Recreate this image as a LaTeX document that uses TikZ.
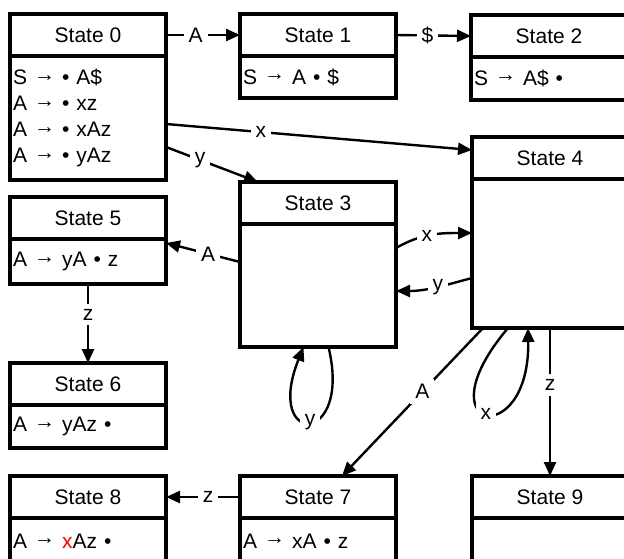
\documentclass[tikz,border=0pt]{standalone}
\usepackage{fontspec}
\setmainfont{Liberation Sans}
\usetikzlibrary{positioning, arrows.meta}

\newcommand{\arrto}{\raisebox{0.32ex}{→}}

\begin{document}
\begin{tikzpicture}[
    x=0.5pt, y=0.5pt,
    >={Triangle[length=7pt, width=6pt]},
    node distance=0pt,
    statehead/.style={rectangle, draw=black, line width=1.7pt, outer sep=0pt,
        minimum width=78pt, minimum height=21pt, anchor=north west,
        font=\fontsize{10.5}{13}\selectfont},
    statebody/.style={rectangle, draw=black, line width=1.7pt, outer sep=0pt,
        text width=75pt, inner xsep=1.5pt, inner ysep=0pt, align=left,
        font=\fontsize{10.5}{13}\selectfont},
    trans/.style={->, line width=1.2pt},
    sym/.style={fill=white, inner sep=2.5pt, font=\fontsize{10.5}{13}\selectfont},
]

\useasboundingbox (0,0) rectangle (624,-558);
\clip (0,0) rectangle (624,-558);

% ── Top row ──
\node[statehead] (s0) at (10,-14) {State 0};
\node[statebody, minimum height=62pt, below=of s0] (s0b)
    {S \arrto{} • A\$\\A \arrto{} • xz\\A \arrto{} • xAz\\A \arrto{} • yAz};

\node[statehead] (s1) at (240,-14) {State 1};
\node[statebody, minimum height=21pt, below=of s1] (s1b) {S \arrto{} A • \$};

\node[statehead] (s2) at (471,-15) {State 2};
\node[statebody, minimum height=21.5pt, below=of s2] (s2b) {S \arrto{} A\$ •};

% ── Middle ──
\node[statehead] (s3) at (240,-182) {State 3};
\node[statebody, minimum height=61.5pt, below=of s3] (s3b) {};

\node[statehead] (s4) at (472,-137) {State 4};
\node[statebody, minimum height=74.5pt, below=of s4] (s4b) {};

\node[statehead] (s5) at (10,-197) {State 5};
\node[statebody, minimum height=22.5pt, below=of s5] (s5b) {A \arrto{} yA • z};

\node[statehead] (s6) at (10,-363) {State 6};
\node[statebody, minimum height=21.5pt, below=of s6] (s6b) {A \arrto{} yAz •};

% ── Bottom row ──
\node[statehead] (s8) at (10,-476) {State 8};
\node[statebody, minimum height=23pt, below=of s8] (s8b) {A \arrto{} {\color{red}x}Az •};

\node[statehead] (s7) at (240,-476) {State 7};
\node[statebody, minimum height=23pt, below=of s7] (s7b) {A \arrto{} xA • z};

\node[statehead] (s9) at (472,-476) {State 9};
\node[statebody, minimum height=23pt, below=of s9] (s9b) {};

% ── Transitions ──
\draw[trans] (s0.east) -- (s1.west) node[sym, pos=0.4] {A};
\draw[trans] (s1.east) -- (s2.west) node[sym, pos=0.42] {\$};
\draw[trans] ([yshift=-3pt]s0b.east) -- ([yshift=4pt]s4.west) node[sym, pos=0.31] {x};
\draw[trans] ([yshift=-14.5pt]s0b.east) -- ([xshift=9pt]s3.north west) node[sym, pos=0.37] {y};
\draw[trans] ([yshift=11.75pt]s3b.west) -- ([yshift=9.25pt]s5b.east) node[sym, pos=0.43] {A};
\draw[trans] ([yshift=18.75pt]s3b.east) to[out=30, in=180]
    node[sym, pos=0.42] {x} ([yshift=10.25pt]s4b.west);
\draw[trans] ([yshift=-12.25pt]s4b.west) to[out=195, in=0]
    node[sym, pos=0.45] {y} ([yshift=-2.75pt]s3b.east);
\draw[trans] (s5b.south) -- (s6.north) node[sym, pos=0.39] {z};

% self loops
\draw[trans] ([xshift=5.25pt]s3b.south) .. controls +(12pt,-50pt) and +(-20pt,-50pt)
    .. ([xshift=-7.25pt]s3b.south) node[sym, pos=0.5] {y};
\draw[trans] ([xshift=18pt]s4b.south west) .. controls +(-44pt,-52pt) and +(1pt,-62pt)
    .. ([xshift=28pt]s4b.south west) node[sym, pos=0.5] {x};

\draw[trans] ([xshift=5.5pt]s4b.south west) -- ([xshift=12pt]s7.north) node[sym, pos=0.43] {A};
\draw[trans] (s4b.south) -- (s9.north) node[sym, pos=0.385] {z};
\draw[trans] (s7.west) -- (s8.east) node[sym, pos=0.43] {z};

\end{tikzpicture}
\end{document}
